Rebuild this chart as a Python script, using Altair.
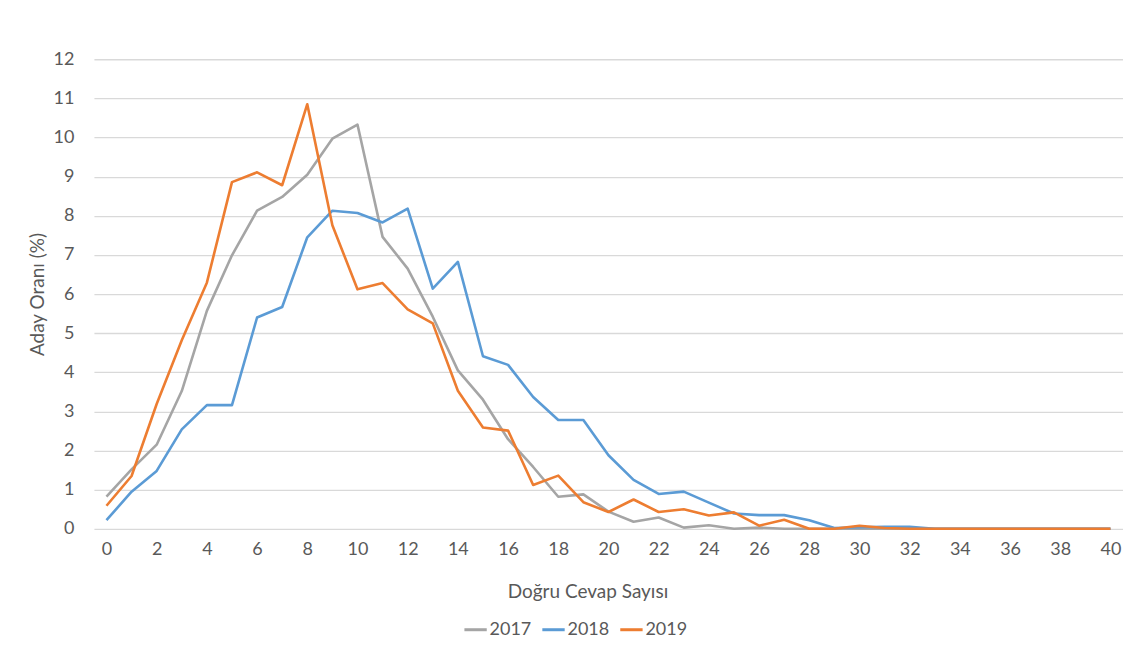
import altair as alt
import pandas as pd

answers = list(range(41))
y2017 = [0.82, 1.52, 2.15, 3.52, 5.57, 6.99, 8.13, 8.48, 9.05, 9.97, 10.33, 7.46, 6.65, 5.42, 4.05,
         3.30, 2.29, 1.58, 0.82, 0.88, 0.44, 0.18, 0.29, 0.03, 0.09, 0.0, 0.03, 0.0, 0.0, 0.0,
         0.0, 0.0, 0.0, 0.0, 0.0, 0.0, 0.0, 0.0, 0.0, 0.0, 0.0]
y2018 = [0.22, 0.95, 1.48, 2.54, 3.16, 3.16, 5.40, 5.67, 7.45, 8.13, 8.07, 7.83, 8.18, 6.14, 6.82,
         4.41, 4.19, 3.37, 2.78, 2.78, 1.88, 1.25, 0.89, 0.95, 0.67, 0.39, 0.35, 0.35, 0.22, 0.02,
         0.04, 0.05, 0.05, 0.0, 0.0, 0.0, 0.0, 0.0, 0.0, 0.0, 0.0]
y2019 = [0.59, 1.35, 3.19, 4.82, 6.29, 8.86, 9.11, 8.78, 10.85, 7.76, 6.12, 6.28, 5.61, 5.25, 3.53,
         2.59, 2.51, 1.12, 1.36, 0.68, 0.43, 0.75, 0.43, 0.50, 0.34, 0.42, 0.08, 0.23, 0.0, 0.0,
         0.08, 0.02, 0.0, 0.0, 0.0, 0.0, 0.0, 0.0, 0.0, 0.0, 0.0]
years = ["2017", "2018", "2019"]
colors = ["#a5a5a5", "#5b9bd5", "#ed7d31"]
x_ticks = list(range(0, 41, 2))
y_ticks = list(range(0, 13))

rows = []
for yr, vals in zip(years, [y2017, y2018, y2019]):
    for k, v in zip(answers, vals):
        rows.append({"k": k, "v": v, "yil": yr})
df = pd.DataFrame(rows)

FONT = "Lato"
TXT = "#595959"

chart = alt.Chart(df).mark_line(strokeWidth=2.6, strokeJoin="round").encode(
    x=alt.X("k:O", scale=alt.Scale(type="point", padding=0.5),
            axis=alt.Axis(values=x_ticks, labelAngle=0, title="Doğru Cevap Sayısı",
                          grid=False, domain=False, ticks=False, labelPadding=12,
                          titleX=494, titleY=63, titleAlign="center", titleBaseline="middle")),
    y=alt.Y("v:Q", scale=alt.Scale(domain=[0, 12], nice=False),
            axis=alt.Axis(values=y_ticks, title="Aday Oranı (%)", domain=False, ticks=False,
                          labelPadding=20, gridColor="#d9d9d9", gridWidth=1.3,
                          titleX=-56, titleY=235, titleAlign="center", titleBaseline="middle")),
    color=alt.Color("yil:N", scale=alt.Scale(domain=years, range=colors),
                    legend=alt.Legend(title=None, orient="none", direction="horizontal",
                                      legendX=369, legendY=558, symbolType="stroke",
                                      symbolSize=500, symbolStrokeWidth=3, labelOffset=1,
                                      columnPadding=4)),
).properties(
    width=1030, height=470,
    autosize=alt.AutoSizeParams(type="none"),
    padding={"left": 86, "top": 51, "right": 0, "bottom": 112},
).configure(
    font=FONT, background="white"
).configure_view(
    stroke=None
).configure_axis(
    labelFont=FONT, titleFont=FONT, labelFontSize=18, titleFontSize=19,
    labelColor=TXT, titleColor=TXT, titleFontWeight="normal"
).configure_legend(
    labelFont=FONT, labelFontSize=18, labelColor=TXT
)

chart.save("out.html", embed_options={"renderer": "svg", "actions": False})
